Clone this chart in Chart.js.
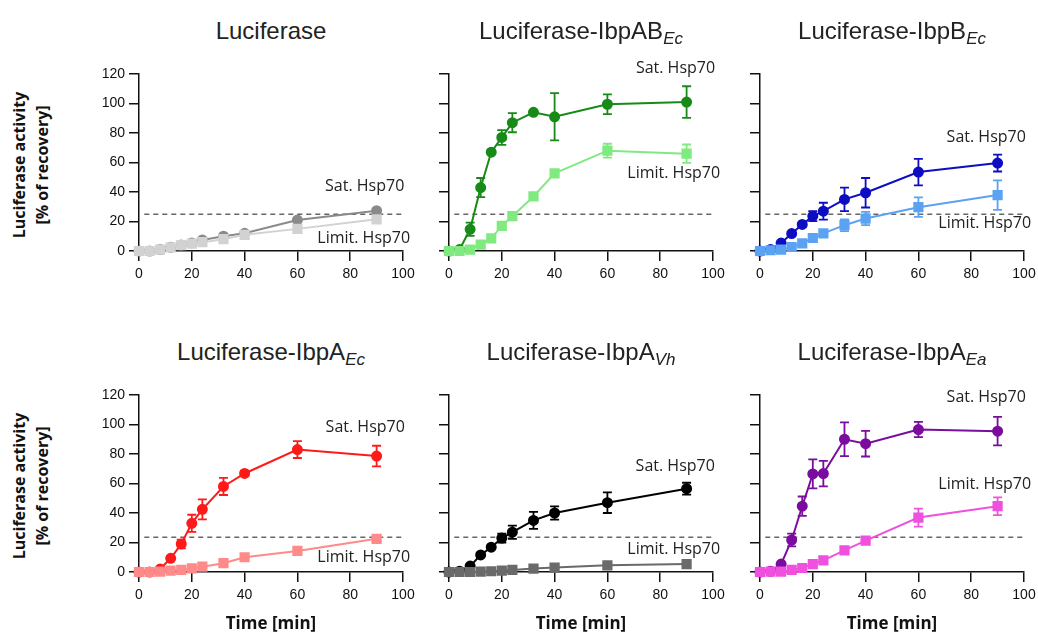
<!DOCTYPE html>
<html>
<head>
<meta charset="utf-8">
<script src="https://cdn.jsdelivr.net/npm/chart.js@4.4.0/dist/chart.umd.min.js"></script>
<style>
  body { margin: 0; background: #fff; width: 1038px; height: 632px; position: relative; overflow: hidden; font-family: "Liberation Sans", Arial, sans-serif; }
  .panel { position: absolute; }
  .title { position: absolute; font-size: 24px; color: #222; white-space: nowrap; transform: translate(-50%, -50%); }
  .title sub { font-style: italic; font-size: 17px; vertical-align: -5px; line-height: 0; }
  .ylab { position: absolute; font-family: "Open Sans", sans-serif; font-weight: bold; font-size: 16px; line-height: 23px; color: #111;
          text-align: center; white-space: nowrap; transform: translate(-50%, -50%) rotate(-90deg); }
  .xlab { position: absolute; font-family: "Open Sans", sans-serif; font-weight: bold; font-size: 17px; color: #111;
          white-space: nowrap; transform: translate(-50%, -50%); }
</style>
</head>
<body>
<script>
// time points (min)
const times = [0, 4, 8, 12, 16, 20, 24, 32, 40, 60, 90];
const xTicks = [0, 20, 40, 60, 80, 100];
const yTicks = [0, 20, 40, 60, 80, 100, 120];

// Luciferase
const lucSat = [0, 0, 1, 2.5, 4, 5.5, 7.5, 10, 12, 21, 27.3];
const lucSatErr = [0, 0, 0, 0, 0, 0, 0, 0, 0, 0, 0];
const lucLim = [0, 0, 1, 2.5, 4, 5, 6, 8, 11, 15, 21.5];
const lucLimErr = [0, 0, 0, 0, 0, 0, 0, 0, 0, 0, 0];

// Luciferase-IbpAB Ec
const abSat = [0, 1, 14.7, 43, 67, 77, 87, 94, 91, 99.5, 101];
const abSatErr = [0, 0, 4.5, 6.5, 1, 5, 6.5, 1, 16, 6.7, 10.7];
const abLim = [0, 0, 1, 4.3, 8.6, 17, 23.6, 37, 52.6, 68, 66];
const abLimErr = [0, 0, 0, 0, 0, 0, 0, 0, 2, 4.7, 6.2];

// Luciferase-IbpB Ec
const bSat = [0, 1, 5.4, 11.8, 18, 23.6, 27, 35, 39.5, 53.5, 59.6];
const bSatErr = [0, 0, 0, 0, 0, 3.4, 5.7, 8, 10, 9, 5.7];
const bLim = [0, 0.5, 1, 2.7, 5.2, 8.8, 12, 17.5, 22, 29.7, 37.9];
const bLimErr = [0, 0, 0, 0, 0, 0, 0, 4, 4.5, 6.6, 10];

// Luciferase-IbpA Ec
const aEcSat = [0, 0, 2, 9.3, 19, 33, 42.5, 58, 66.8, 83, 78.6];
const aEcSatErr = [0, 0, 0, 1, 3, 5.8, 6.8, 5.8, 1.5, 5.7, 7];
const aEcLim = [0, 0, 0.3, 1, 1.4, 2.5, 3.6, 6, 10, 14.3, 22.5];
const aEcLimErr = [0, 0, 0, 0, 0, 0, 0, 0, 0, 0, 0];

// Luciferase-IbpA Vh
const aVhSat = [0, 0.5, 4, 11.6, 16.8, 23, 27, 35, 40, 47, 56.5];
const aVhSatErr = [0, 0, 0, 0, 1, 3, 4.5, 5.8, 4.5, 7, 4];
const aVhLim = [0, 0, 0, 0.3, 0.5, 1, 1.4, 2.3, 3, 4.5, 5.4];
const aVhLimErr = [0, 0, 0, 0, 0, 0, 0, 0, 0, 0, 0];

// Luciferase-IbpA Ea
const aEaSat = [0, 0.5, 5.4, 21.7, 44.6, 66.5, 66.7, 90, 87, 96.6, 95.5];
const aEaSatErr = [0, 0, 0, 4.3, 6.6, 9.8, 8.6, 11.5, 8.7, 5.2, 9.7];
const aEaLim = [0, 0.2, 0.2, 1.4, 2.7, 5.4, 7.9, 14.7, 21.3, 36.9, 44.6];
const aEaLimErr = [0, 0, 0, 0, 0, 0, 0, 0, 0, 6.1, 6];

// dashed reference level per panel
const thresholds = [25, 25, 25, 23.5, 23.5, 23.5];

const plotLefts = [139, 449, 760];
const plotTops = [74, 395];
const plotW = 264, plotH = 177;
const axisW = 50, axisH = 40, padTop = 24, padRight = 24;

const panels = [
  { title: 'Luciferase', sat: lucSat, satErr: lucSatErr, lim: lucLim, limErr: lucLimErr,
    satColor: '#8a8a8a', limColor: '#d2d2d2', satLabel: [100.5, 44], limLabel: [102.7, 8.8] },
  { title: 'Luciferase-IbpAB<sub>Ec</sub>', sat: abSat, satErr: abSatErr, lim: abLim, limErr: abLimErr,
    satColor: '#178a17', limColor: '#80ea80', satLabel: [100.8, 124], limLabel: [102.7, 52.5] },
  { title: 'Luciferase-IbpB<sub>Ec</sub>', sat: bSat, satErr: bSatErr, lim: bLim, limErr: bLimErr,
    satColor: '#0d0dc2', limColor: '#5ba3f2', satLabel: [100.7, 77], limLabel: [102.7, 18.5] },
  { title: 'Luciferase-IbpA<sub>Ec</sub>', sat: aEcSat, satErr: aEcSatErr, lim: aEcLim, limErr: aEcLimErr,
    satColor: '#ff1a1a', limColor: '#ff8a8a', satLabel: [100.7, 98], limLabel: [102.7, 9.7] },
  { title: 'Luciferase-IbpA<sub>Vh</sub>', sat: aVhSat, satErr: aVhSatErr, lim: aVhLim, limErr: aVhLimErr,
    satColor: '#000000', limColor: '#6a6a6a', satLabel: [100.7, 71.6], limLabel: [102.7, 15] },
  { title: 'Luciferase-IbpA<sub>Ea</sub>', sat: aEaSat, satErr: aEaSatErr, lim: aEaLim, limErr: aEaLimErr,
    satColor: '#7a0c9e', limColor: '#f050de', satLabel: [100.7, 118.5], limLabel: [102.7, 59.5] }
];

// vertical error bars with caps
const errorBars = {
  id: 'errorBars',
  afterDatasetsDraw(chart) {
    const ctx = chart.ctx;
    const yScale = chart.scales.y;
    chart.data.datasets.forEach((ds, i) => {
      if (!ds.errors) return;
      const meta = chart.getDatasetMeta(i);
      ctx.save();
      ctx.strokeStyle = ds.borderColor;
      ctx.lineWidth = 1.8;
      meta.data.forEach((pt, j) => {
        const e = ds.errors[j];
        if (!e) return;
        const v = ds.data[j].y;
        const top = yScale.getPixelForValue(v + e);
        const bot = yScale.getPixelForValue(v - e);
        ctx.beginPath();
        ctx.moveTo(pt.x, top); ctx.lineTo(pt.x, bot);
        ctx.moveTo(pt.x - 4.5, top); ctx.lineTo(pt.x + 4.5, top);
        ctx.moveTo(pt.x - 4.5, bot); ctx.lineTo(pt.x + 4.5, bot);
        ctx.stroke();
      });
      ctx.restore();
    });
  }
};

// "Sat. Hsp70" / "Limit. Hsp70" labels
const seriesLabels = {
  id: 'seriesLabels',
  afterDraw(chart, args, opts) {
    const ctx = chart.ctx;
    ctx.save();
    ctx.font = '16px "Open Sans"';
    ctx.fillStyle = '#222';
    ctx.textAlign = 'right';
    ctx.textBaseline = 'middle';
    opts.items.forEach(it => {
      ctx.fillText(it.text, chart.scales.x.getPixelForValue(it.x), chart.scales.y.getPixelForValue(it.y));
    });
    ctx.restore();
  }
};

function addText(cls, html, x, y) {
  const d = document.createElement('div');
  d.className = cls;
  d.innerHTML = html;
  d.style.left = x + 'px';
  d.style.top = y + 'px';
  document.body.appendChild(d);
}

panels.forEach((p, idx) => {
  const col = idx % 3, row = Math.floor(idx / 3);
  const canvas = document.createElement('canvas');
  canvas.className = 'panel';
  canvas.width = axisW + plotW + padRight;
  canvas.height = padTop + plotH + axisH;
  canvas.style.left = (plotLefts[col] - axisW) + 'px';
  canvas.style.top = (plotTops[row] - padTop) + 'px';
  document.body.appendChild(canvas);

  const pts = arr => times.map((t, i) => ({ x: t, y: arr[i] }));

  new Chart(canvas, {
    type: 'line',
    data: {
      datasets: [
        {
          data: pts(p.lim), errors: p.limErr,
          borderColor: p.limColor, backgroundColor: p.limColor,
          pointStyle: 'rect', pointRadius: 5.8, borderWidth: 2, clip: false
        },
        {
          data: pts(p.sat), errors: p.satErr,
          borderColor: p.satColor, backgroundColor: p.satColor,
          pointStyle: 'circle', pointRadius: 4.5, borderWidth: 2, clip: false
        },
        {
          data: [{ x: 2, y: thresholds[idx] }, { x: 100, y: thresholds[idx] }],
          borderColor: '#666', borderWidth: 1.5, borderDash: [5, 4], pointRadius: 0
        }
      ]
    },
    options: {
      responsive: false,
      animation: false,
      devicePixelRatio: 1,
      layout: { padding: { top: padTop, right: padRight, left: 0, bottom: 0 } },
      plugins: {
        legend: { display: false },
        tooltip: { enabled: false },
        seriesLabels: {
          items: [
            { text: 'Sat. Hsp70', x: p.satLabel[0], y: p.satLabel[1] },
            { text: 'Limit. Hsp70', x: p.limLabel[0], y: p.limLabel[1] }
          ]
        }
      },
      elements: { line: { tension: 0 } },
      scales: {
        x: {
          type: 'linear', min: 0, max: 100,
          afterBuildTicks: s => { s.ticks = xTicks.map(v => ({ value: v })); },
          afterFit: s => { s.height = axisH; },
          grid: { drawOnChartArea: false, drawTicks: true, tickLength: 10, color: '#111', lineWidth: 1.5 },
          border: { color: '#111', width: 1.5 },
          ticks: { color: '#111', font: { family: '"Liberation Sans"', size: 14 }, padding: 5, maxRotation: 0 }
        },
        y: {
          type: 'linear', min: 0, max: 120,
          afterBuildTicks: s => { s.ticks = yTicks.map(v => ({ value: v })); },
          afterFit: s => { s.width = axisW; },
          grid: { drawOnChartArea: false, drawTicks: true, tickLength: 10, color: '#111', lineWidth: 1.5 },
          border: { color: '#111', width: 1.5 },
          ticks: {
            color: '#111', font: { family: '"Liberation Sans"', size: 14 }, padding: 4,
            callback: v => col === 0 ? String(v) : ''
          }
        }
      }
    },
    plugins: [errorBars, seriesLabels]
  });

  const cx = plotLefts[col] + plotW / 2;
  addText('title', p.title, cx, row === 0 ? 31 : 352);
  if (row === 1) addText('xlab', 'Time [min]', cx, 622);
});

addText('ylab', 'Luciferase activity<br>[% of recovery]', 31, 165);
addText('ylab', 'Luciferase activity<br>[% of recovery]', 31, 486);
</script>
</body>
</html>
